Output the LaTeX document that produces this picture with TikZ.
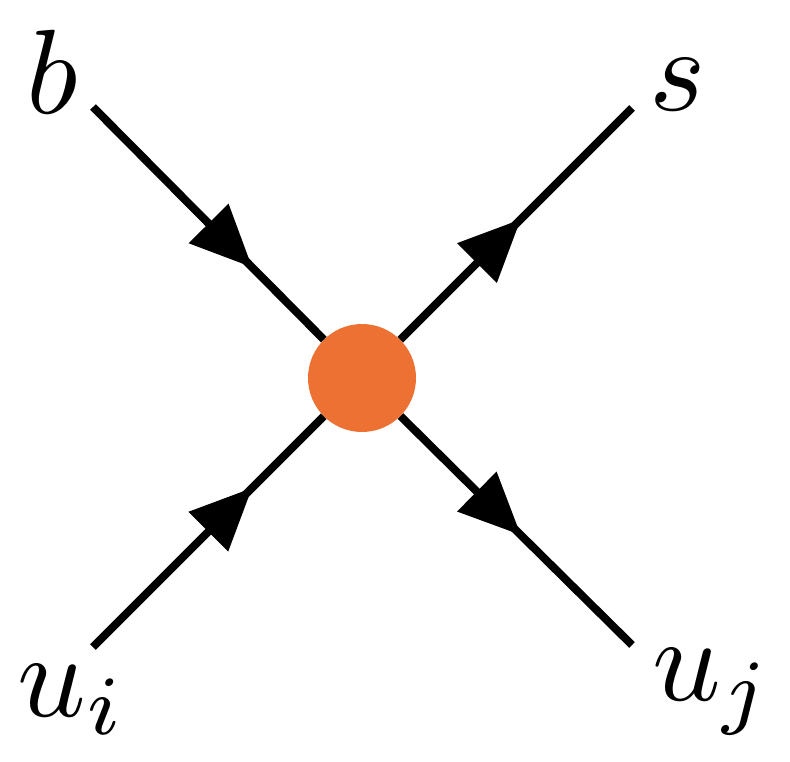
\documentclass[tikz,border=0pt]{standalone}
\usetikzlibrary{arrows.meta,decorations.markings}
\begin{document}
\begin{tikzpicture}[x=1pt,y=-1pt,
  leg/.style={line width=8pt,postaction={decorate},decoration={markings,mark=at position #1 with {\arrow{Triangle[length=62pt,width=54pt]}}}},
  lab/.style={inner sep=0pt}]
\useasboundingbox (0,0) rectangle (790,762);
\node[circle,fill={rgb,255:red,236;green,113;blue,50},minimum size=108pt,inner sep=0pt] (c) at (362,378) {};
\coordinate (b) at (93,107);
\coordinate (s) at (632,108);
\coordinate (ui) at (93,647);
\coordinate (uj) at (632,645);
\draw[leg=0.69] (b) -- (c);
\draw[leg=0.69] (ui) -- (c);
\draw[leg=0.52] (c) -- (s);
\draw[leg=0.52] (c) -- (uj);
\node[lab] (lb) at (52,72) {\scalebox{12}{$b$}};
\node[lab] (ls) at (678,85) {\scalebox{12}{$s$}};
\node[lab] (lui) at (72,700) {\scalebox{12}{$u_i$}};
\node[lab] (luj) at (712,692) {\scalebox{12}{$u_j$}};
\end{tikzpicture}
\end{document}
